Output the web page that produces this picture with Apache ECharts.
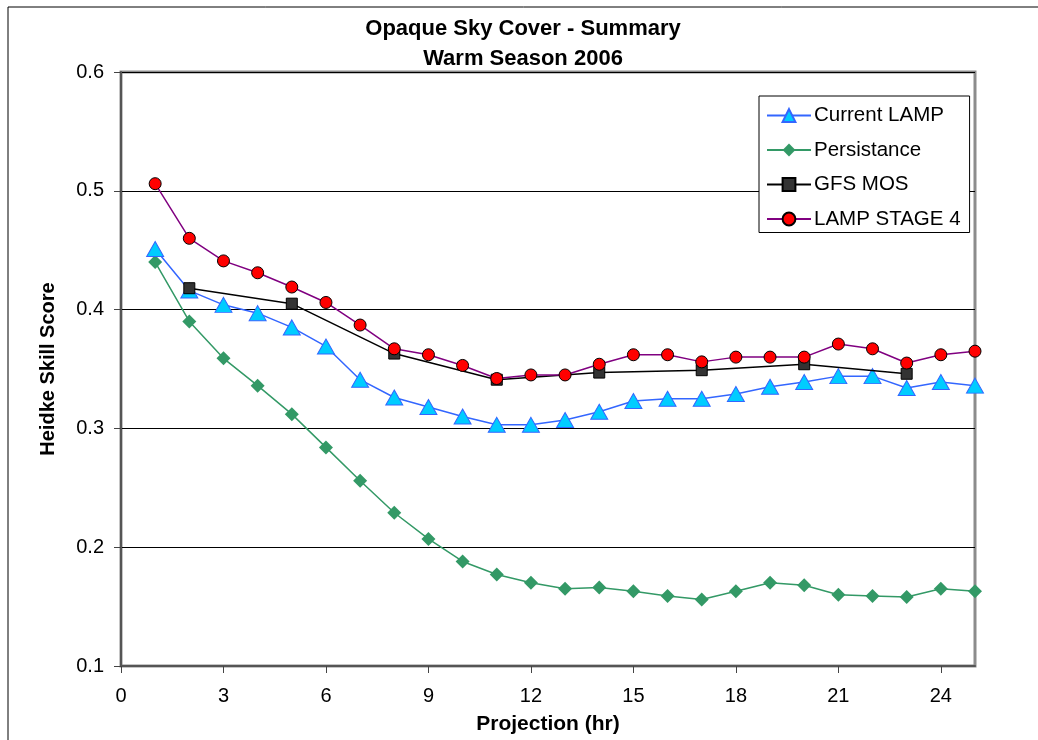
<!DOCTYPE html>
<html>
<head>
<meta charset="utf-8">
<script src="https://cdn.jsdelivr.net/npm/echarts@6/dist/echarts.min.js"></script>
<style>
  html, body { margin: 0; padding: 0; background: #fff; }
  #chart { width: 1038px; height: 740px; }
</style>
</head>
<body>
<div id="chart"></div>
<script>
  // projection hours
  var hours = [1,2,3,4,5,6,7,8,9,10,11,12,13,14,15,16,17,18,19,20,21,22,23,24,25]
  var gfsHours = [2,5,8,11,14,17,20,23]

  // Heidke skill score values
  var currentLamp = [0.451,0.416,0.404,0.397,0.385,0.369,0.341,0.326,0.318,0.310,0.303,0.303,0.307,0.314,0.323,0.325,0.325,0.329,0.335,0.339,0.344,0.344,0.334,0.339,0.336]
  var persistance = [0.440,0.390,0.359,0.336,0.312,0.284,0.256,0.229,0.207,0.188,0.177,0.170,0.165,0.166,0.163,0.159,0.156,0.163,0.170,0.168,0.160,0.159,0.158,0.165,0.163]
  var gfsMos = [0.418,0.405,0.363,0.341,0.347,0.349,0.354,0.346]
  var lampStage4 = [0.506,0.460,0.441,0.431,0.419,0.406,0.387,0.367,0.362,0.353,0.342,0.345,0.345,0.354,0.362,0.362,0.356,0.360,0.360,0.360,0.371,0.367,0.355,0.362,0.365]

  var yTicks = [0.1,0.2,0.3,0.4,0.5,0.6]

  function pairs (xs, ys) {
    return xs.map(function (x, i) { return [x, ys[i]] })
  }

  var font = '"Liberation Sans", Arial, sans-serif'
  var chart = echarts.init(document.getElementById('chart'))

  chart.setOption({
    animation: false,
    backgroundColor: '#fff',
    textStyle: { fontFamily: font },
    title: {
      text: 'Opaque Sky Cover - Summary\nWarm Season 2006',
      left: 518,
      textAlign: 'center',
      top: 9,
      textStyle: { fontFamily: font, fontSize: 22, fontWeight: 'bold', color: '#000', lineHeight: 30 }
    },
    graphic: [
      {
        type: 'rect',
        shape: { x: 8, y: 7, width: 1040, height: 760 },
        style: { fill: 'none', stroke: '#000', lineWidth: 1 },
        silent: true,
        z: -1
      }
    ],
    legend: {
      orient: 'vertical',
      left: 759,
      top: 96,
      width: 211,
      backgroundColor: '#fff',
      borderColor: '#000',
      borderWidth: 1,
      padding: [9, 9, 3, 7],
      itemWidth: 44,
      itemHeight: 16,
      itemGap: 13.5,
      textStyle: { fontFamily: font, fontSize: 20.5, color: '#000', padding: [0, 0, 0, -2] },
      data: ['Current LAMP', 'Persistance', 'GFS MOS', 'LAMP STAGE 4']
    },
    grid: {
      left: 121,
      top: 72,
      right: 63,
      bottom: 72,
      show: true,
      borderColor: '#8c8c8c',
      borderWidth: 3
    },
    xAxis: {
      type: 'value',
      min: 0,
      max: 25,
      interval: 3,
      name: 'Projection (hr)',
      nameLocation: 'middle',
      nameGap: 48,
      nameTextStyle: { fontFamily: font, fontSize: 21, fontWeight: 'bold', color: '#000' },
      axisLine: { show: true, onZero: false, lineStyle: { color: '#555', width: 2 } },
      axisTick: { show: true, inside: false, length: 7, lineStyle: { color: '#444', width: 1 } },
      axisLabel: { show: true, showMaxLabel: false, margin: 20, fontSize: 20, color: '#000', fontFamily: font },
      splitLine: { show: false }
    },
    yAxis: {
      type: 'value',
      min: 0.1,
      max: 0.6,
      interval: 0.1,
      name: 'Heidke Skill Score',
      nameLocation: 'middle',
      nameGap: 63,
      nameTextStyle: { fontFamily: font, fontSize: 20, fontWeight: 'bold', color: '#000' },
      axisLine: { show: true, lineStyle: { color: '#555', width: 2 } },
      axisTick: { show: true, inside: false, length: 7, lineStyle: { color: '#444', width: 1 } },
      axisLabel: {
        margin: 17,
        fontSize: 20,
        color: '#000',
        fontFamily: font,
        formatter: function (v) {
          var t = yTicks.filter(function (s) { return Math.abs(s - v) < 1e-6 })
          return t.length ? t[0].toFixed(1) : ''
        }
      },
      splitLine: { show: true, lineStyle: { color: '#000', width: 1 } }
    },
    series: [
      {
        name: 'Current LAMP',
        type: 'line',
        data: pairs(hours, currentLamp),
        symbol: 'triangle',
        symbolSize: [17, 15],
        lineStyle: { color: '#3366ff', width: 1.5 },
        itemStyle: { color: '#00ccff', borderColor: '#3366ff', borderWidth: 1 },
        z: 3
      },
      {
        name: 'Persistance',
        type: 'line',
        data: pairs(hours, persistance),
        symbol: 'diamond',
        symbolSize: 14,
        lineStyle: { color: '#339966', width: 1.5 },
        itemStyle: { color: '#339966', borderColor: '#339966', borderWidth: 0 },
        z: 2
      },
      {
        name: 'GFS MOS',
        type: 'line',
        data: pairs(gfsHours, gfsMos),
        symbol: 'rect',
        symbolSize: 11,
        lineStyle: { color: '#000', width: 1.5 },
        itemStyle: { color: '#333', borderColor: '#000', borderWidth: 1 },
        z: 4
      },
      {
        name: 'LAMP STAGE 4',
        type: 'line',
        data: pairs(hours, lampStage4),
        symbol: 'circle',
        symbolSize: 12,
        lineStyle: { color: '#800080', width: 1.5 },
        itemStyle: { color: '#ff0000', borderColor: '#000', borderWidth: 1 },
        z: 5
      }
    ]
  })
</script>
</body>
</html>
